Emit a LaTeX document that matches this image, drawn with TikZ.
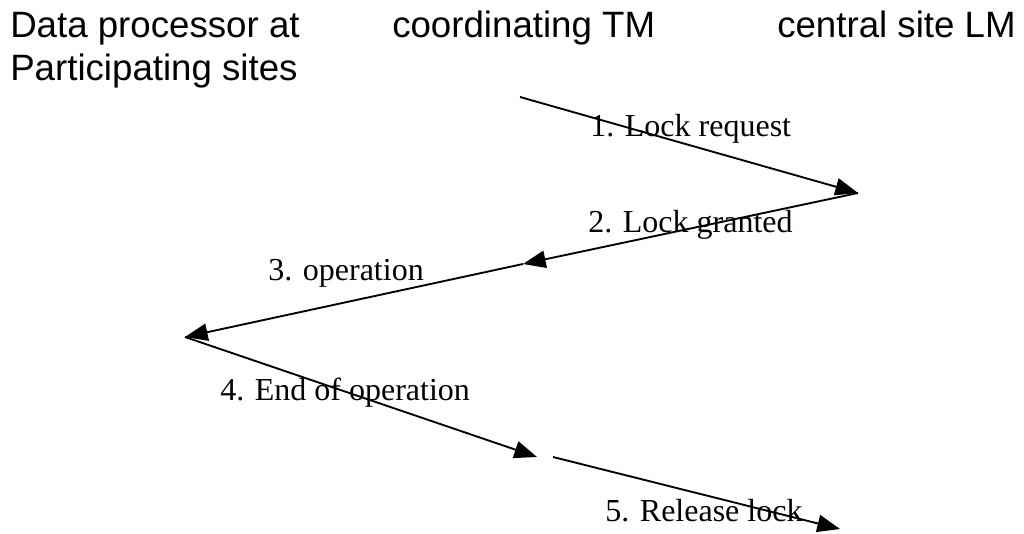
\documentclass[tikz,border=0pt]{standalone}
\usepackage{fontspec}
\setmainfont{Liberation Serif}
\newfontfamily\headfont{Liberation Sans}
\usetikzlibrary{arrows.meta}
\begin{document}
\begin{tikzpicture}[x=0.75pt,y=-0.75pt,>={Triangle[length=17pt,width=13pt]},
  head/.style={anchor=base west,inner sep=0pt,font=\headfont\fontsize{27.5}{33}\selectfont},
  msg/.style={anchor=base west,inner sep=0pt,font=\fontsize{24}{29}\selectfont},
  flow/.style={->,line width=1.4pt}]
\useasboundingbox (0,0) rectangle (1024,534);
% column headings
\node (dp) [head] at (10,38) {Data processor at};
\node (dpsites) [head] at (10,81) {Participating sites};
\node (tm) [head] at (392,38) {coordinating TM};
\node (lm) [head] at (777,38) {central site LM};
% end points of the messages
\coordinate (tm1) at (520,97);
\coordinate (lm1) at (858,193);
\coordinate (tm2) at (523,264);
\coordinate (dp1) at (185,337);
\coordinate (tm3) at (537,457);
\coordinate (tm4) at (553,457);
\coordinate (lm2) at (840,529);
% messages
\draw [flow] (tm1) -- (lm1);
\node (m1) [msg] at (590,137) {1. Lock request};
\draw [flow] (lm1) -- (tm2);
\node (m2) [msg] at (588,233) {2. Lock granted};
\draw [flow] (tm2) -- (dp1);
\node (m3) [msg] at (268,281) {3. operation};
\draw [flow] (dp1) -- (tm3);
\node (m4) [msg] at (220,401) {4. End of operation};
\draw [flow] (tm4) -- (lm2);
\node (m5) [msg] at (605,521) {5. Release lock};
\end{tikzpicture}
\end{document}
